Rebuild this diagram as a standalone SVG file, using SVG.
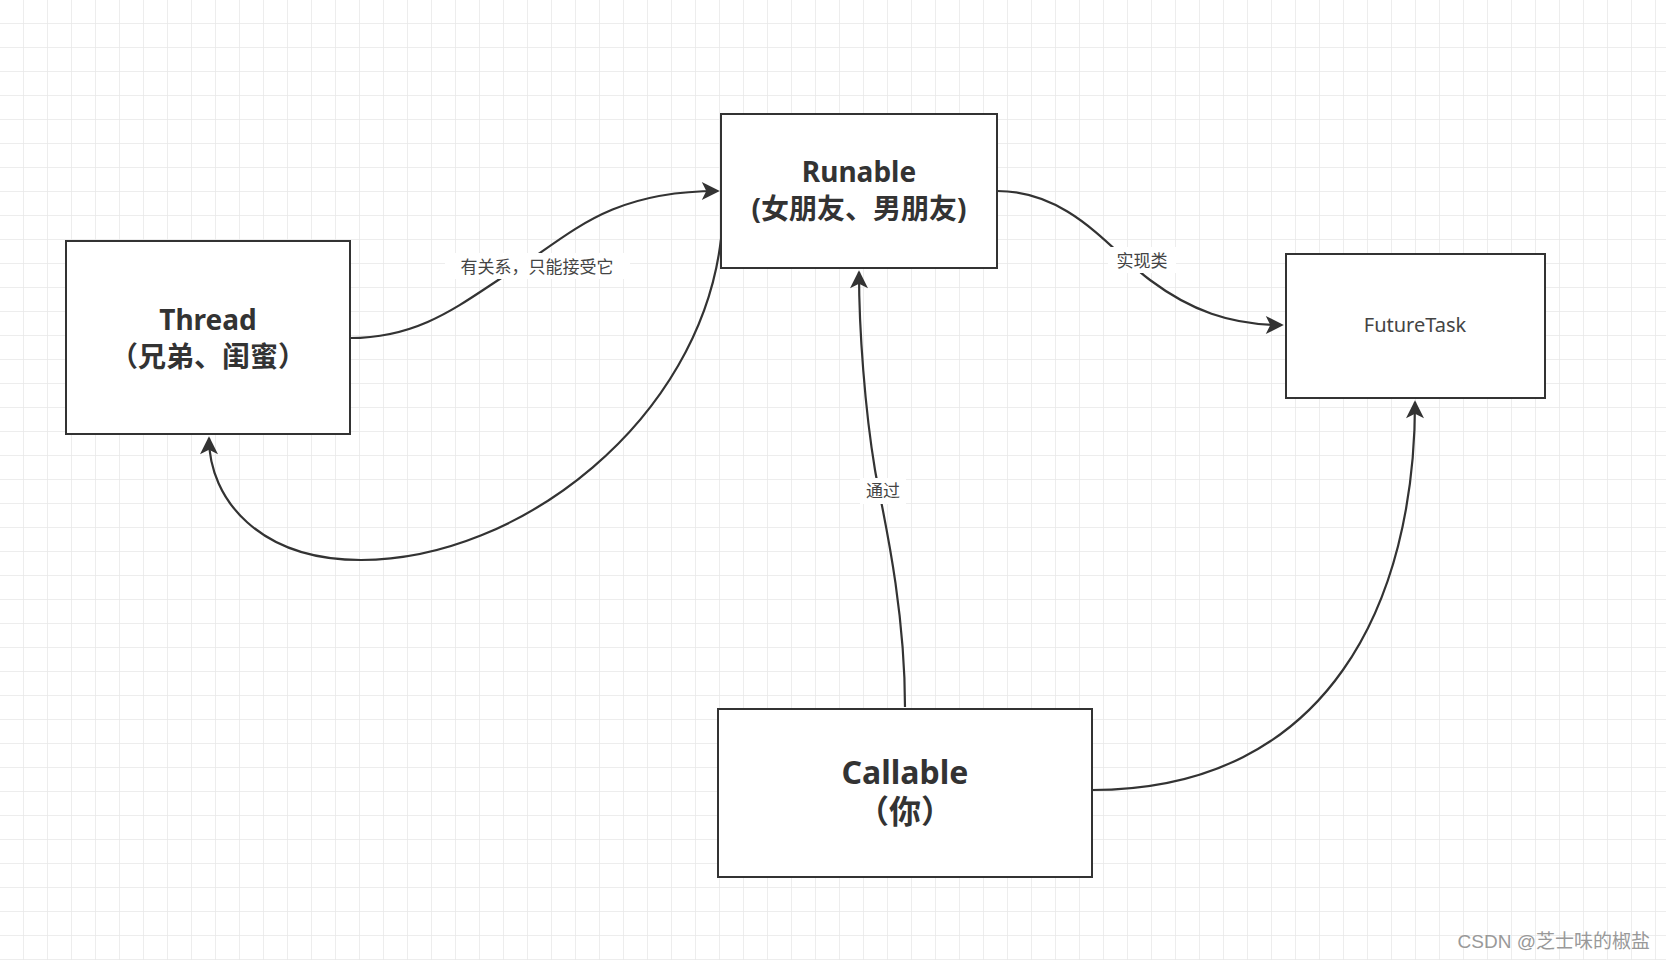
<svg xmlns="http://www.w3.org/2000/svg" width="1666" height="960" viewBox="0 0 1666 960">
<defs>
<pattern id="g" x="23" y="23" width="24" height="24" patternUnits="userSpaceOnUse"><path d="M0 0H24M0 0V24" fill="none" stroke="#e8e8e8" stroke-width="1.5"/></pattern>
<marker id="a" viewBox="0 0 10 10" refX="9" refY="5" markerWidth="22" markerHeight="18" markerUnits="userSpaceOnUse" orient="auto"><path d="M0 0L10 5L0 10L2.5 5Z" fill="#333"/></marker>
</defs>
<style>
.n{fill:#fff;stroke:#333;stroke-width:2}
.t{font-family:"Noto Sans","Noto Sans CJK SC",sans-serif;font-weight:bold;font-size:28px;fill:#333;text-anchor:middle}
.l{font-family:"Noto Sans","Noto Sans CJK SC",sans-serif;font-size:17px;fill:#444;text-anchor:middle}
.c path{fill:none;stroke:#333;stroke-width:2.2}
</style>
<rect width="1666" height="960" fill="#fff"/>
<rect width="1666" height="960" fill="url(#g)"/>
<g class="c">
<path d="M350,338 C430,338 470,295 530,260 C580,225 620,191 718,191" marker-end="url(#a)"/>
<path d="M721,239 C700,420 520,560 361,560 C260,560 209,500 209,438" marker-end="url(#a)"/>
<path d="M997,191 C1070,191 1110,250 1150,280 C1190,310 1230,325 1282,325" marker-end="url(#a)"/>
<path d="M905,707 C905,600 880,500 875,470 C865,410 859,330 859,272" marker-end="url(#a)"/>
<path d="M1092,790 C1330,790 1415,600 1415,402" marker-end="url(#a)"/>
</g>
<g class="lbl">
<rect x="445" y="253" width="185" height="26" fill="#fff"/>
<text class="l" x="537" y="273">有关系，只能接受它</text>
<rect x="1108" y="247" width="68" height="26" fill="#fff"/>
<text class="l" x="1142" y="267">实现类</text>
<rect x="860" y="478" width="46" height="26" fill="#fff"/>
<text class="l" x="883" y="497">通过</text>
</g>
<g id="thread"><rect class="n" x="66" y="241" width="284" height="193"/>
<text class="t" x="208" y="330">Thread</text><text class="t" x="208" y="367">（兄弟、闺蜜）</text></g>
<g id="runable"><rect class="n" x="721" y="114" width="276" height="154"/>
<text class="t" x="859" y="182">Runable</text><text class="t" x="859" y="219">(女朋友、男朋友)</text></g>
<g id="futuretask"><rect class="n" x="1286" y="254" width="259" height="144"/>
<text class="l" x="1415" y="332" style="font-size:20px">FutureTask</text></g>
<g id="callable"><rect class="n" x="718" y="709" width="374" height="168"/>
<text class="t" x="905" y="784" style="font-size:32px">Callable</text><text class="t" x="905" y="823" style="font-size:32px">（你）</text></g>
<text x="1650" y="948" style="font-family:'Liberation Sans','Noto Sans CJK SC',sans-serif;font-size:19px;fill:#999;text-anchor:end">CSDN @芝士味的椒盐</text>
</svg>
